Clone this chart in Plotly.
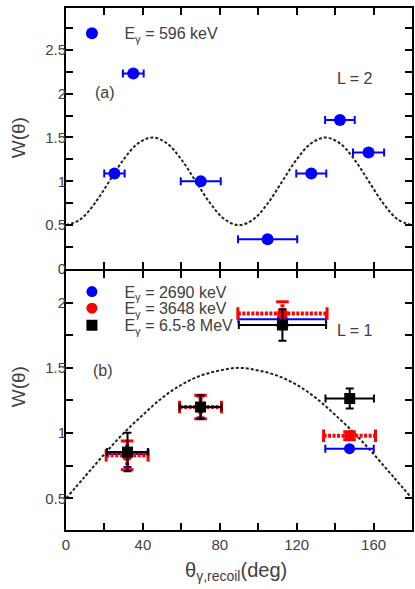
import plotly.graph_objects as go

# ---------------- data ----------------
# Panel (a): E_gamma = 596 keV
theta_a = [25.2, 35.0, 70.1, 104.9, 127.6, 142.5, 157.4]
w_a = [1.09, 2.23, 1.00, 0.34, 1.09, 1.70, 1.33]
dtheta_a = [5.3, 5.4, 10.4, 15.4, 7.8, 7.7, 8.1]

# L = 2 theoretical curve
curve_theta_a = [0, 7.5, 15, 22.5, 30, 37.5, 45, 52.5, 60, 67.5, 75, 82.5, 90,
                 97.5, 105, 112.5, 120, 127.5, 135, 142.5, 150, 157.5, 165, 172.5, 180]
curve_w_a = [0.5, 0.567, 0.75, 1.0, 1.25, 1.433, 1.5, 1.433, 1.25, 1.0, 0.75, 0.567, 0.5,
             0.567, 0.75, 1.0, 1.25, 1.433, 1.5, 1.433, 1.25, 1.0, 0.75, 0.567, 0.5]

# Panel (b)
theta_2690 = [32.0, 70.0, 112.5, 147.5]
w_2690 = [0.84, 1.20, 1.873, 0.881]
dtheta_2690 = [10.7, 10.8, 22.8, 12.6]
dw_2690 = [0.10, 0.08, 0.03, 0.02]

theta_3648 = [31.8, 70.0, 112.6, 147.5]
w_3648 = [0.83, 1.20, 1.916, 0.98]
dtheta_3648 = [10.9, 10.9, 23.2, 13.5]
dw_3648 = [0.11, 0.09, 0.09, 0.03]

theta_hi = [32.0, 70.0, 112.6, 147.6]
w_hi = [0.855, 1.20, 1.828, 1.265]
dtheta_hi = [10.7, 10.9, 22.7, 12.6]
dw_hi = [0.147, 0.09, 0.12, 0.076]

# L = 1 theoretical curve
curve_theta_b = [0, 10, 20, 30, 40, 50, 60, 70, 80, 90, 100, 110, 120, 130, 140, 150, 160, 170, 180]
curve_w_b = [0.5, 0.67, 0.84, 1.0, 1.14, 1.27, 1.37, 1.44, 1.48, 1.5, 1.48, 1.44, 1.37, 1.27,
             1.14, 1.0, 0.84, 0.67, 0.5]

label_a = "E<sub>γ</sub> = 596 keV"
label_2690 = "E<sub>γ</sub> = 2690 keV"
label_3648 = "E<sub>γ</sub> = 3648 keV"
label_hi = "E<sub>γ</sub> = 6.5-8 MeV"

# ---------------- figure ----------------
FONT = "Liberation Sans, Arial, sans-serif"
TXT = "#404040"
BLUE = "#0000ff"
RED = "#ff0000"

fig = go.Figure()

# dashed theory curves
fig.add_trace(go.Scatter(x=curve_theta_a, y=curve_w_a, mode="lines", xaxis="x", yaxis="y",
                         line=dict(color="#222222", width=2, dash="3px,2px", shape="spline"),
                         showlegend=False, hoverinfo="skip"))
fig.add_trace(go.Scatter(x=curve_theta_b, y=curve_w_b, mode="lines", xaxis="x2", yaxis="y2",
                         line=dict(color="#222222", width=2, dash="3px,2px", shape="spline"),
                         showlegend=False, hoverinfo="skip"))

# panel (a) data
fig.add_trace(go.Scatter(x=theta_a, y=w_a, mode="markers", xaxis="x", yaxis="y",
                         name=label_a, legend="legend",
                         marker=dict(color=BLUE, size=12, symbol="circle"),
                         error_x=dict(type="data", array=dtheta_a, color=BLUE, thickness=2, width=4)))

# panel (b): 2690 keV (blue)
fig.add_trace(go.Scatter(x=theta_2690, y=w_2690, mode="markers", xaxis="x2", yaxis="y2",
                         name=label_2690, legend="legend2",
                         marker=dict(color=BLUE, size=11, symbol="circle"),
                         error_x=dict(type="data", array=dtheta_2690, color=BLUE, thickness=2, width=4),
                         error_y=dict(type="data", array=dw_2690, color=BLUE, thickness=2, width=4)))

# panel (b): 3648 keV (red, dotted error bars)
hx, hy, vx, vy = [], [], [], []
capx_h, capy_h, capx_v, capy_v = [], [], [], []
for t, w, dt, dw in zip(theta_3648, w_3648, dtheta_3648, dw_3648):
    hx += [t - dt, t + dt, None]
    hy += [w, w, None]
    vx += [t, t, None]
    vy += [w - dw, w + dw, None]
    capx_h += [t - dt, t + dt]
    capy_h += [w, w]
    capx_v += [t, t]
    capy_v += [w - dw, w + dw]
fig.add_trace(go.Scatter(x=hx, y=hy, mode="lines", xaxis="x2", yaxis="y2", showlegend=False,
                         line=dict(color=RED, width=4, dash="3px,1.5px"), hoverinfo="skip"))
fig.add_trace(go.Scatter(x=vx, y=vy, mode="lines", xaxis="x2", yaxis="y2", showlegend=False,
                         line=dict(color=RED, width=4, dash="3px,1.5px"), hoverinfo="skip"))
fig.add_trace(go.Scatter(x=capx_h, y=capy_h, mode="markers", xaxis="x2", yaxis="y2", showlegend=False,
                         marker=dict(symbol="line-ns", size=9, line=dict(color=RED, width=3)),
                         hoverinfo="skip"))
fig.add_trace(go.Scatter(x=capx_v, y=capy_v, mode="markers", xaxis="x2", yaxis="y2", showlegend=False,
                         marker=dict(symbol="line-ew", size=9, line=dict(color=RED, width=3)),
                         hoverinfo="skip"))
fig.add_trace(go.Scatter(x=theta_3648, y=w_3648, mode="markers", xaxis="x2", yaxis="y2",
                         name=label_3648, legend="legend3",
                         marker=dict(color=RED, size=11, symbol="circle")))

# panel (b): 6.5-8 MeV (black squares)
fig.add_trace(go.Scatter(x=theta_hi, y=w_hi, mode="markers", xaxis="x2", yaxis="y2",
                         name=label_hi, legend="legend4",
                         marker=dict(color="black", size=11, symbol="square"),
                         error_x=dict(type="data", array=dtheta_hi, color="black", thickness=2, width=4),
                         error_y=dict(type="data", array=dw_hi, color="black", thickness=2, width=4)))

axis_common = dict(showline=True, linecolor="black", linewidth=2, mirror="ticks",
                   ticks="inside", ticklen=7, tickwidth=2, tickcolor="black",
                   showgrid=False, zeroline=False, tickmode="linear",
                   tickfont=dict(family=FONT, size=15, color=TXT))
minor_x = dict(dtick=20, ticks="inside", ticklen=7, tickwidth=2, tickcolor="black", showgrid=False)
minor_y = dict(dtick=0.25, ticks="inside", ticklen=7, tickwidth=2, tickcolor="black", showgrid=False)

fig.update_layout(
    width=415, height=589,
    margin=dict(l=66, r=1, t=8, b=59),
    plot_bgcolor="white", paper_bgcolor="white",
    font=dict(family=FONT, color=TXT),
    xaxis=dict(domain=[0, 1], range=[0, 180], anchor="y", tick0=0, dtick=40,
               showticklabels=False, minor=minor_x, **axis_common),
    yaxis=dict(domain=[0.5, 1], range=[0, 2.977], anchor="x", tick0=0, dtick=0.5,
               ticklabelstandoff=-5, minor=minor_y, **axis_common),
    xaxis2=dict(domain=[0, 1], range=[0, 180], anchor="y2", tick0=0, dtick=40,
                minor=minor_x, **axis_common),
    yaxis2=dict(domain=[0, 0.4962], range=[0.258, 2.242], anchor="x2", tick0=0.5, dtick=0.5,
                ticklabelstandoff=-5, minor=minor_y, **axis_common),
)

leg_common = dict(xanchor="left", yanchor="middle", bgcolor="rgba(0,0,0,0)", borderwidth=0,
                  itemwidth=55, font=dict(family=FONT, size=16, color=TXT))
fig.update_layout(
    legend=dict(x=-0.019, y=0.9515, **leg_common),
    legend2=dict(x=-0.019, y=0.4566, **leg_common),
    legend3=dict(x=-0.019, y=0.4248, **leg_common),
    legend4=dict(x=-0.019, y=0.3922, **leg_common),
)

ann_font = dict(family=FONT, size=16, color=TXT)
ann_common = dict(xref="paper", yref="paper", showarrow=False, xanchor="center", yanchor="middle")
annotations = [
    dict(text="(a)", x=0.112, y=0.839, font=ann_font, **ann_common),
    dict(text="L = 2", x=0.836, y=0.864, font=ann_font, **ann_common),
    dict(text="(b)", x=0.106, y=0.3065, font=ann_font, **ann_common),
    dict(text="L = 1", x=0.836, y=0.383, font=ann_font, **ann_common),
    dict(text="W(θ)", x=-0.135, y=0.751, textangle=-90,
         font=dict(family=FONT, size=19, color=TXT), **ann_common),
    dict(text="W(θ)", x=-0.135, y=0.274, textangle=-90,
         font=dict(family=FONT, size=19, color=TXT), **ann_common),
    dict(text="θ<sub>γ,recoil</sub>(deg)", x=0.49, y=-0.079,
         font=dict(family=FONT, size=20, color=TXT), **ann_common),
]
fig.update_layout(annotations=annotations)

fig.write_html("out.html")
